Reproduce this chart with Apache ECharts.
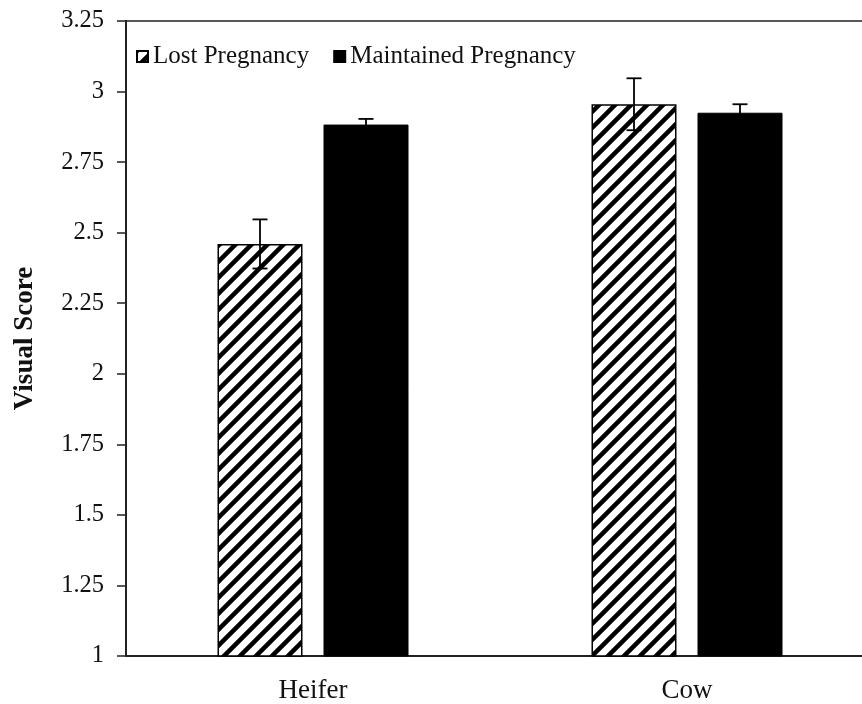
<!DOCTYPE html>
<html>
<head>
<meta charset="utf-8">
<script src="https://cdn.jsdelivr.net/npm/echarts@6/dist/echarts.min.js"></script>
<style>html,body{margin:0;padding:0;background:#fff;overflow:hidden}#c{width:874px;height:704px}</style>
</head>
<body>
<div id="c"></div>
<script>
// ---- data ----
var categories = ['Heifer', 'Cow'];
var seriesNames = ['Lost Pregnancy', 'Maintained Pregnancy'];
var lostValues = [2.46, 2.955];
var lostErrors = [0.087, 0.092];
var maintainedValues = [2.883, 2.925];
var maintainedErrors = [0.02, 0.03];
var yTicks = { min: 1, max: 3.25, interval: 0.25 };

// ---- styles ----
var FONT = '"Liberation Serif", "Times New Roman", serif';
var BAR_W = 85;
var BAR_GAP_PX = 21;

function makeHatch() {
  var s = 16;
  var cv = document.createElement('canvas');
  cv.width = s; cv.height = s;
  var ctx = cv.getContext('2d');
  ctx.fillStyle = '#fff';
  ctx.fillRect(0, 0, s, s);
  ctx.strokeStyle = '#000';
  ctx.lineWidth = 4.5;
  ctx.beginPath();
  ctx.moveTo(-2, s + 2); ctx.lineTo(s + 2, -2);
  ctx.moveTo(-2, 2); ctx.lineTo(2, -2);
  ctx.moveTo(s - 2, s + 2); ctx.lineTo(s + 2, s - 2);
  ctx.stroke();
  return cv;
}
var hatch = { image: makeHatch(), repeat: 'repeat' };

function errorSeries(values, errors, side) {
  var data = values.map(function (v, i) { return [i, v, errors[i]]; });
  return {
    type: 'custom',
    z: 10,
    silent: true,
    data: data,
    renderItem: function (params, api) {
      var idx = api.value(0);
      var v = api.value(1), e = api.value(2);
      var off = side * (BAR_W + BAR_GAP_PX) / 2;
      var hi = api.coord([idx, v + e]);
      var lo = api.coord([idx, v - e]);
      var x = hi[0] + off;
      var cap = 7.5;
      var st = { stroke: '#000', lineWidth: 1.8 };
      return {
        type: 'group',
        children: [
          { type: 'line', shape: { x1: x, y1: hi[1], x2: x, y2: lo[1] }, style: st },
          { type: 'line', shape: { x1: x - cap, y1: hi[1], x2: x + cap, y2: hi[1] }, style: st },
          { type: 'line', shape: { x1: x - cap, y1: lo[1], x2: x + cap, y2: lo[1] }, style: st }
        ]
      };
    }
  };
}

var chart = echarts.init(document.getElementById('c'), null, { renderer: 'canvas' });
chart.setOption({
  animation: false,
  backgroundColor: '#fff',
  textStyle: { fontFamily: FONT, color: '#111' },
  grid: {
    left: 126, right: 0, top: 21, bottom: 48,
    show: true, borderColor: '#222', borderWidth: 1.5, backgroundColor: 'transparent'
  },
  legend: {
    data: seriesNames,
    left: 131, top: 39,
    itemWidth: 11, itemHeight: 11, itemGap: 24,
    icon: 'rect',
    textStyle: { fontFamily: FONT, fontSize: 25, color: '#111' }
  },
  xAxis: {
    type: 'category',
    data: categories,
    axisLine: { lineStyle: { color: '#222', width: 2 } },
    axisTick: { show: false },
    axisLabel: { fontFamily: FONT, fontSize: 27, color: '#111', margin: 21 }
  },
  yAxis: {
    type: 'value',
    min: yTicks.min, max: yTicks.max, interval: yTicks.interval,
    name: 'Visual Score',
    nameLocation: 'middle',
    nameGap: 87,
    nameTextStyle: { fontFamily: FONT, fontSize: 27, fontWeight: 'bold', color: '#111' },
    splitLine: { show: false },
    axisLine: { show: true, lineStyle: { color: '#222', width: 2 } },
    axisTick: { show: true, length: 9, lineStyle: { color: '#222', width: 1.5 } },
    axisLabel: { fontFamily: FONT, fontSize: 24.5, color: '#111', margin: 22 }
  },
  series: [
    {
      name: seriesNames[0], type: 'bar', data: lostValues,
      barWidth: BAR_W, barGap: (BAR_GAP_PX / BAR_W * 100) + '%',
      itemStyle: { color: hatch, borderColor: '#000', borderWidth: 1.5 }
    },
    {
      name: seriesNames[1], type: 'bar', data: maintainedValues,
      barWidth: BAR_W,
      itemStyle: { color: '#000', borderColor: '#000', borderWidth: 1 }
    },
    errorSeries(lostValues, lostErrors, -1),
    errorSeries(maintainedValues, maintainedErrors, 1)
  ]
});
</script>
</body>
</html>
